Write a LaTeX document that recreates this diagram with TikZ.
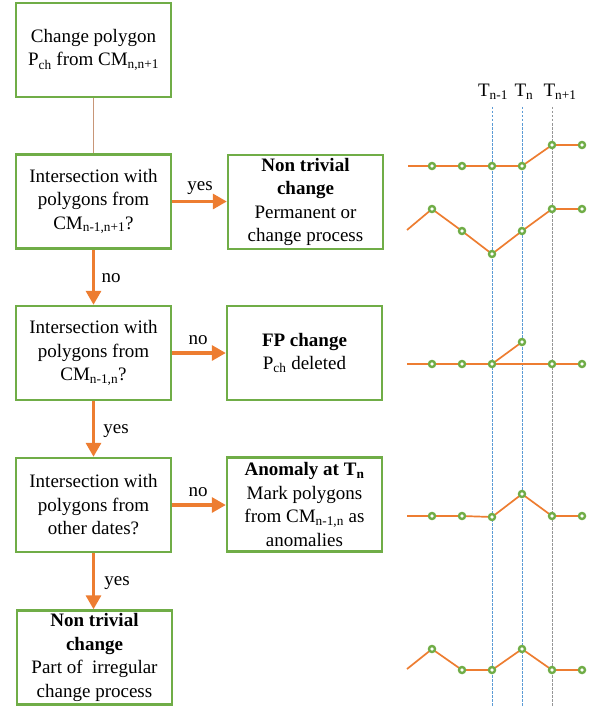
\documentclass[tikz,border=0pt]{standalone}
\usepackage{fontspec}
\setmainfont{Liberation Serif}
\usetikzlibrary{arrows.meta}
\definecolor{grn}{RGB}{112,173,71}
\definecolor{org}{RGB}{237,125,49}
\definecolor{lnk}{RGB}{200,150,120}
\definecolor{dblue}{RGB}{91,155,213}
\definecolor{dgray}{RGB}{150,150,150}
\tikzset{
 box/.style={draw=grn, line width=2.4pt, minimum width=155pt, minimum height=94pt, align=center, inner sep=0pt, font=\fontsize{19}{23.5}\selectfont},
 flow/.style={draw=org, line width=3.2pt, -{Triangle[length=14pt,width=15pt]}},
 lbl/.style={font=\fontsize{19}{23}\selectfont, inner sep=0pt},
 curve/.style={draw=org, line width=1.7pt, line join=round},
 mkr/.style={draw=grn, fill=white, line width=2.4pt},
 vguide/.style={dash pattern=on 2.5pt off 1.5pt, line width=0.8pt}
}
\begin{document}
\begin{tikzpicture}[x=1pt,y=-1pt]
\useasboundingbox (0,0) rectangle (595,706);
% flowchart boxes
\node[box] (b1) at (93.5,50) {Change polygon\\P\textsubscript{ch} from CM\textsubscript{n,n+1}};
\node[box] (b2) at (93.5,201.5) {Intersection with\\polygons from\\CM\textsubscript{n-1,n+1}?};
\node[box] (r1) at (305.5,202) {\textbf{Non trivial}\\\textbf{change}\\Permanent or\\change process};
\node[box] (b3) at (93.5,353) {Intersection with\\polygons from\\CM\textsubscript{n-1,n}?};
\node[box] (r2) at (304.5,353) {\textbf{FP change}\\P\textsubscript{ch} deleted};
\node[box] (b4) at (93.5,505) {Intersection with\\polygons from\\other dates?};
\node[box] (r3) at (304.5,504.5) {\textbf{Anomaly at T\textsubscript{n}}\\Mark polygons\\from CM\textsubscript{n-1,n} as\\anomalies};
\node[box] (b5) at (94.5,657.5) {\textbf{Non trivial}\\\textbf{change}\\Part of\ \ irregular\\change process};
% connectors
\draw[lnk, line width=1.4pt] (b1.south) -- (b2.north);
\draw[flow] (b2.east) -- (b2.east -| r1.west);
\draw[flow] (b2.south) -- (b3.north);
\draw[flow] (b3.east) -- (b3.east -| r2.west);
\draw[flow] (b3.south) -- (b4.north);
\draw[flow] (b4.east) -- (b4.east -| r3.west);
\draw[flow] (b4.south) -- (b4.south |- b5.north);
% labels
\node[lbl] (l1) at (200,188) {yes};
\node[lbl] (l2) at (111,278) {no};
\node[lbl] (l3) at (198,340) {no};
\node[lbl] (l4) at (116,431) {yes};
\node[lbl] (l5) at (198,492) {no};
\node[lbl] (l6) at (117,583) {yes};
% time axis
\draw[vguide, dblue] (492,107) -- (492,706);
\draw[vguide, dblue] (522,107) -- (522,706);
\draw[vguide, dgray] (552,107) -- (552,706);
\node[lbl] (t1) at (493,92) {T\textsubscript{n-1}};
\node[lbl] (t2) at (524,92) {T\textsubscript{n}};
\node[lbl] (t3) at (560,92) {T\textsubscript{n+1}};
% plot 1
\draw[curve] (408,166) -- (432,166) -- (462,166) -- (492,166) -- (522,166) -- (552,145) -- (582,145);
\foreach \p in {(432,166),(462,166),(492,166),(522,166),(552,145),(582,145)} \draw[mkr] \p circle[radius=3pt];
% plot 2
\draw[curve] (407,230) -- (432,209) -- (462,231) -- (492,254) -- (522,231) -- (552,209) -- (582,209);
\foreach \p in {(432,209),(462,231),(492,254),(522,231),(552,209),(582,209)} \draw[mkr] \p circle[radius=3pt];
% plot 3
\draw[curve] (407,364) -- (432,364) -- (462,364) -- (492,364) -- (552,364) -- (582,364);
\draw[curve] (492,364) -- (522,342);
\foreach \p in {(432,364),(462,364),(492,364),(522,342),(552,364),(582,364)} \draw[mkr] \p circle[radius=3pt];
% plot 4
\draw[curve] (407,516) -- (432,516) -- (462,516) -- (492,517) -- (522,494) -- (552,516) -- (582,516);
\foreach \p in {(432,516),(462,516),(492,517),(522,494),(552,516),(582,516)} \draw[mkr] \p circle[radius=3pt];
% plot 5
\draw[curve] (407,669) -- (432,649) -- (462,670) -- (492,670) -- (522,649) -- (552,670) -- (582,670);
\foreach \p in {(432,649),(462,670),(492,670),(522,649),(552,670),(582,670)} \draw[mkr] \p circle[radius=3pt];
\end{tikzpicture}
\end{document}
